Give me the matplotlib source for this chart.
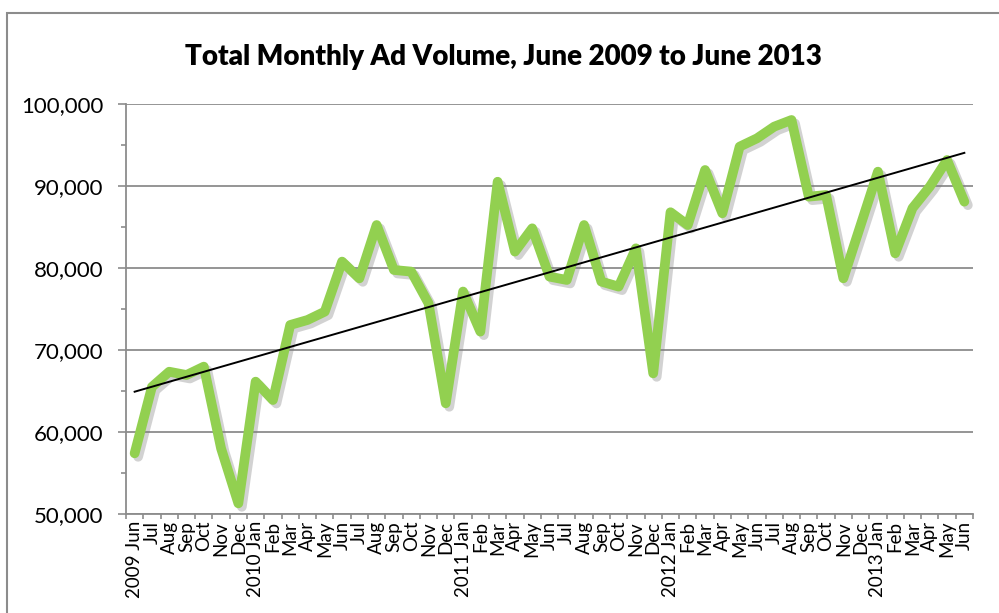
import numpy as np
import matplotlib.pyplot as plt
import matplotlib.patheffects as pe
from matplotlib.patches import Rectangle
from matplotlib.ticker import MultipleLocator, FixedLocator, NullFormatter

# === DATA ===
months = ["Jun", "Jul", "Aug", "Sep", "Oct", "Nov", "Dec",
          "Jan", "Feb", "Mar", "Apr", "May", "Jun", "Jul", "Aug", "Sep", "Oct", "Nov", "Dec",
          "Jan", "Feb", "Mar", "Apr", "May", "Jun", "Jul", "Aug", "Sep", "Oct", "Nov", "Dec",
          "Jan", "Feb", "Mar", "Apr", "May", "Jun", "Jul", "Aug", "Sep", "Oct", "Nov", "Dec",
          "Jan", "Feb", "Mar", "Apr", "May", "Jun"]
year_marks = {0: "2009", 7: "2010", 19: "2011", 31: "2012", 43: "2013"}
ad_volume = [57400, 65500, 67350, 66950, 67970, 58000, 51300,
             66140, 63900, 73050, 73660, 74680, 80780, 78740, 85240, 79760, 79560, 75700, 63500,
             77130, 72240, 90520, 82000, 84840, 78950, 78540, 85240, 78340, 77730, 82400, 67150,
             86800, 85240, 91950, 86670, 94800, 95810, 97240, 98050, 88700, 88900, 78740, 85240,
             91750, 81790, 87300, 89920, 93170, 88090]

tick_labels = [f"{year_marks[i]} {m}" if i in year_marks else m for i, m in enumerate(months)]
x = np.arange(len(ad_volume))

# linear trendline from the data
slope, intercept = np.polyfit(x, ad_volume, 1)
trend = slope * x + intercept

# === PLOT ===
plt.rcParams['font.family'] = ['Lato', 'DejaVu Sans']
fig = plt.figure(figsize=(9.99, 6.13), dpi=100)
ax = fig.add_axes([126 / 999, 1 - 514 / 613, (973 - 126) / 999, (514 - 104) / 613])

# outer chart border
fig.patches.append(Rectangle((7 / 999, -0.1), 1.2, 1 - 13 / 613 + 0.1, transform=fig.transFigure,
                             fill=False, edgecolor="#8c8c8c", linewidth=1.5))

grid_c = "#8c8c8c"
ax.plot(x, ad_volume, color="#92D050", linewidth=7, solid_joinstyle="round", solid_capstyle="round",
        zorder=3, path_effects=[pe.SimpleLineShadow(offset=(2.5, -2.5), shadow_color="gray", alpha=0.35),
                                pe.Normal()])
ax.plot(x, trend, color="black", linewidth=1.4, zorder=4)

ax.set_xlim(-0.5, len(x) - 0.5)
ax.set_ylim(50000, 100000)
ax.yaxis.set_major_locator(MultipleLocator(10000))
ax.yaxis.set_minor_locator(MultipleLocator(5000))
ax.yaxis.set_major_formatter(plt.FuncFormatter(lambda v, p: f"{int(v):,}"))
ax.grid(axis="y", which="major", color=grid_c, linewidth=1.3, zorder=0)

ax.set_xticks(x)
ax.set_xticklabels(tick_labels, rotation=90, fontsize=13.5)
ax.tick_params(axis="x", which="major", length=0, pad=5)
ax.xaxis.set_minor_locator(FixedLocator(np.arange(-0.5, len(x), 1.0)))
ax.xaxis.set_minor_formatter(NullFormatter())
ax.tick_params(axis="x", which="minor", length=3.6, color=grid_c, width=1.2, direction="out")
ax.tick_params(axis="y", which="major", length=5.8, color=grid_c, width=1.2, labelsize=16, pad=10.5)
ax.tick_params(axis="y", which="minor", length=3.6, color=grid_c, width=1.2)

for s in ["top", "right"]:
    ax.spines[s].set_visible(False)
for s in ["left", "bottom"]:
    ax.spines[s].set_color(grid_c)
    ax.spines[s].set_linewidth(1.3)

fig.text(503 / 999, 1 - 57 / 613, "Total Monthly Ad Volume, June 2009 to June 2013",
         ha="center", va="center", fontsize=20, fontweight="heavy")

fig.savefig("out.png", dpi=100)
